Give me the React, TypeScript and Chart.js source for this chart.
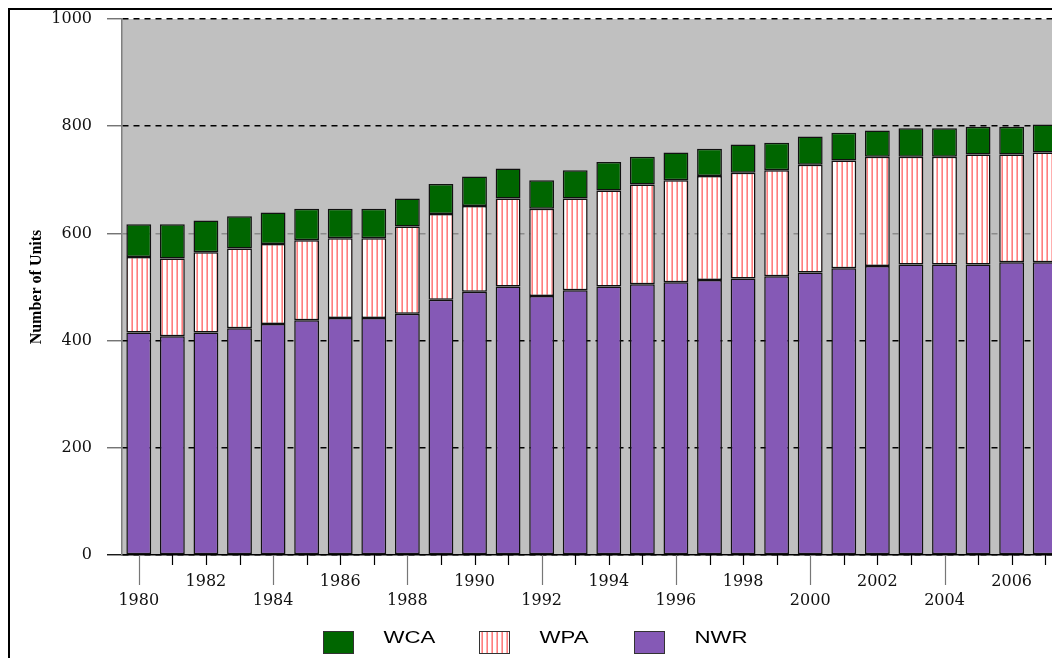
import React, { useEffect, useRef } from "react";
import { Chart, registerables } from "chart.js";
Chart.register(...registerables);

const years = [
  "1980", "1981", "1982", "1983", "1984", "1985", "1986", "1987", "1988", "1989",
  "1990", "1991", "1992", "1993", "1994", "1995", "1996", "1997", "1998", "1999",
  "2000", "2001", "2002", "2003", "2004", "2005", "2006", "2007",
];
const nwr = [415, 408, 415, 423, 431, 438, 442, 442, 450, 476, 491, 501, 483, 494, 501, 505, 509, 513, 516, 520, 527, 535, 539, 542, 542, 542, 546, 546];
const wpa = [141, 145, 150, 149, 149, 149, 149, 149, 163, 160, 160, 164, 163, 171, 179, 186, 190, 194, 197, 198, 201, 201, 204, 201, 201, 205, 201, 205];
const wca = [61, 64, 59, 60, 59, 59, 55, 55, 52, 56, 55, 56, 53, 53, 53, 52, 52, 51, 53, 51, 53, 52, 49, 53, 53, 52, 52, 52];
const yTickValues = [0, 200, 400, 600, 800, 1000];
const yTitle = "Number of Units";

const NWR_COLOR = "#8559b6";
const WCA_COLOR = "#006600";

function makePattern(ctx: CanvasRenderingContext2D) {
  const c = document.createElement("canvas");
  c.width = 5;
  c.height = 5;
  const g = c.getContext("2d")!;
  g.fillStyle = "#ffffff";
  g.fillRect(0, 0, 5, 5);
  g.fillStyle = "rgb(255,175,175)";
  g.fillRect(1, 0, 1, 5);
  g.fillStyle = "rgb(255,125,125)";
  g.fillRect(2, 0, 1, 5);
  return ctx.createPattern(c, "repeat")!;
}

const bgPlugin = {
  id: "plotBg",
  beforeDraw(chart: any) {
    const { ctx, chartArea } = chart;
    ctx.save();
    ctx.fillStyle = "#c0c0c0";
    ctx.fillRect(chartArea.left, chartArea.top, chartArea.right - chartArea.left, chartArea.bottom - chartArea.top);
    ctx.restore();
  },
};

const xTickPlugin = {
  id: "xTicks",
  afterDraw(chart: any) {
    const { ctx } = chart;
    const xs = chart.scales.x;
    const y0 = chart.chartArea.bottom;
    ctx.save();
    for (let i = 0; i < years.length; i++) {
      const x = Math.round(xs.getPixelForTick(i)) + 0.5;
      const long = i % 4 === 0;
      ctx.strokeStyle = long ? "#777" : "#000";
      ctx.lineWidth = 1.2;
      ctx.beginPath();
      ctx.moveTo(x, y0);
      ctx.lineTo(x, y0 + (long ? 30 : 10));
      ctx.stroke();
    }
    ctx.restore();
  },
};

const legendPlugin = {
  id: "customLegend",
  afterDraw(chart: any) {
    const { ctx } = chart;
    const sets = chart.data.datasets.slice().reverse();
    const start = chart.width / 2 - 213;
    const pitch = 155.5;
    ctx.save();
    sets.forEach((ds: any, i: number) => {
      const bx = Math.round(start + i * pitch) + 0.5;
      const by = 621.5;
      ctx.fillStyle = ds.backgroundColor;
      ctx.fillRect(bx, by, 30, 22);
      ctx.strokeStyle = "#333";
      ctx.lineWidth = 1;
      ctx.strokeRect(bx, by, 30, 22);
      ctx.save();
      ctx.translate(bx + 60, 629);
      ctx.scale(1.39, 1);
      ctx.fillStyle = "#000";
      ctx.font = "16px 'Liberation Sans', Arial, sans-serif";
      ctx.textAlign = "left";
      ctx.textBaseline = "middle";
      ctx.fillText(ds.label, 0, 0);
      ctx.restore();
    });
    ctx.restore();
  },
};

export default function App() {
  const ref = useRef<HTMLCanvasElement>(null);
  useEffect(() => {
    const canvas = ref.current!;
    const ctx = canvas.getContext("2d")!;
    const pattern = makePattern(ctx);
    const chart = new Chart(canvas, {
      type: "bar",
      data: {
        labels: years,
        datasets: [
          { label: "NWR", data: nwr, backgroundColor: NWR_COLOR, borderColor: "#111", borderWidth: 1.5, borderSkipped: false },
          { label: "WPA", data: wpa, backgroundColor: pattern as any, borderColor: "#111", borderWidth: 1.5, borderSkipped: false },
          { label: "WCA", data: wca, backgroundColor: WCA_COLOR, borderColor: "#111", borderWidth: 1.5, borderSkipped: false },
        ],
      },
      options: {
        responsive: false,
        animation: false,
        devicePixelRatio: 1,
        layout: { padding: { top: 9, left: 0, right: 0, bottom: 0 } },
        datasets: { bar: { barPercentage: 0.74, categoryPercentage: 1.0 } } as any,
        plugins: { legend: { display: false }, tooltip: { enabled: false } },
        scales: {
          x: {
            stacked: true,
            offset: true,
            grid: { display: false, drawTicks: false, tickLength: 0 },
            border: { display: true, color: "#000", width: 1.5 },
            ticks: {
              autoSkip: false,
              maxRotation: 0,
              minRotation: 0,
              padding: 17,
              color: "#111",
              font: { family: "'DejaVu Serif', serif", size: 16, lineHeight: 1.2 },
              callback: (value: any, index: number) => {
                if (index % 2 === 1) return "";
                return index % 4 === 0 ? ["", years[index]] : years[index];
              },
            },
            afterFit: (scale: any) => {
              scale.height = 103;
              scale.paddingLeft = 0;
              scale.paddingRight = 0;
            },
          },
          y: {
            stacked: true,
            min: 0,
            max: 1000,
            afterBuildTicks: (scale: any) => {
              scale.ticks = yTickValues.map((v) => ({ value: v }));
            },
            grid: {
              color: (c: any) => (c.tick && c.tick.value === 600 ? "#8a8a8a" : "#000"),
              lineWidth: 1.5,
              tickLength: 15,
              tickWidth: 1.3,
              tickColor: (c: any) => (c.tick && c.tick.value === 0 ? "#000" : "#666"),
            },
            border: { display: true, color: "#7f7f7f", width: 1.5, dash: [6, 5] },
            ticks: {
              padding: 15,
              color: "#111",
              font: { family: "'DejaVu Serif', serif", size: 16 },
              callback: (value: any) => String(value),
            },
            title: {
              display: true,
              text: yTitle,
              color: "#000",
              font: { family: "'Liberation Serif', serif", size: 16, weight: "bold" },
              padding: { top: 17, bottom: 0 },
            },
            afterFit: (scale: any) => {
              scale.width = 112;
              scale.paddingTop = 0;
              scale.paddingBottom = 0;
            },
          },
        },
      },
      plugins: [bgPlugin, xTickPlugin, legendPlugin],
    });
    return () => chart.destroy();
  }, []);

  return (
    <div
      style={{
        position: "fixed",
        left: 8,
        top: 8,
        width: 1044,
        height: 650,
        borderLeft: "2px solid #000",
        borderTop: "2px solid #000",
        overflow: "hidden",
        boxSizing: "border-box",
        background: "#fff",
      }}
    >
      <canvas ref={ref} width={1052} height={648} style={{ display: "block" }} />
    </div>
  );
}
